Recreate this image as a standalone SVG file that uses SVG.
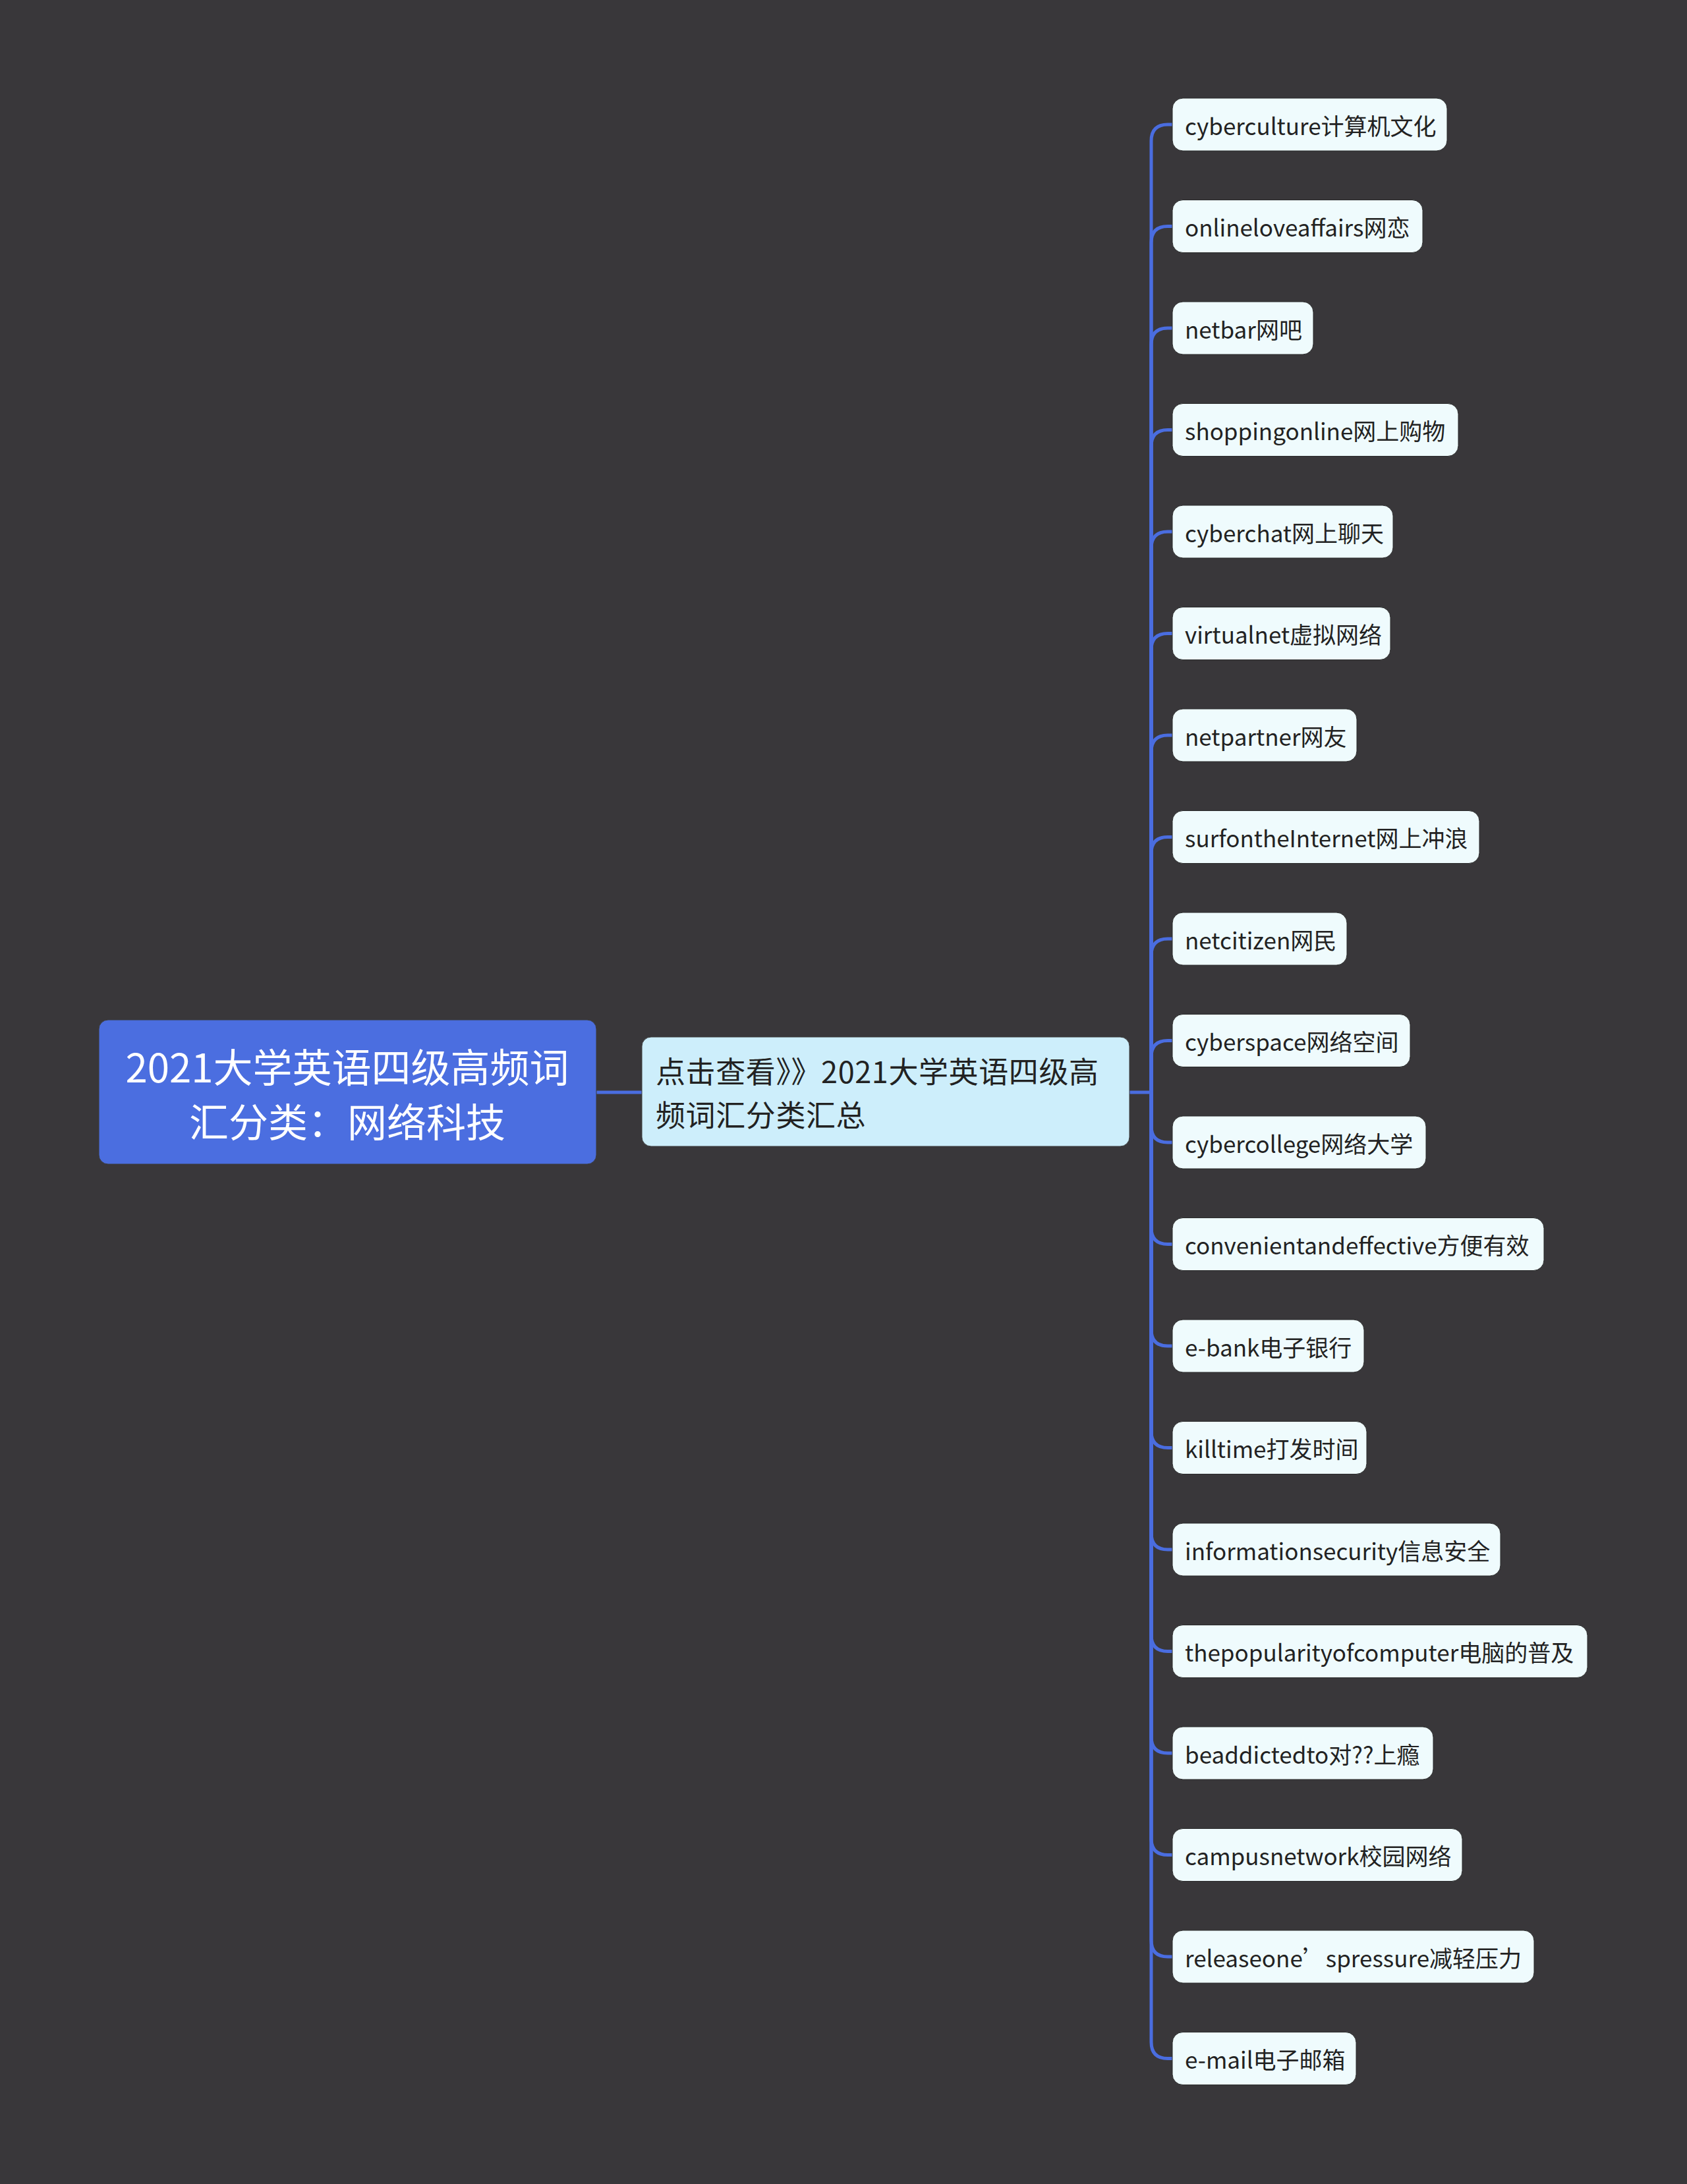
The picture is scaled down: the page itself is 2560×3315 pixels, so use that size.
<svg xmlns="http://www.w3.org/2000/svg" width="2560" height="3315" viewBox="0 0 2560 3315">
<style>
.bg{fill:#39373a}
.c{fill:none;stroke:#4a6de0;stroke-width:5;stroke-linecap:round;stroke-linejoin:round}
.root rect{fill:#4b6ee0;stroke:#3b3b3b;stroke-width:1}
.root text{fill:#ffffff;font-family:"Noto Sans CJK SC","Noto Sans",sans-serif;font-size:60px;text-anchor:middle;dominant-baseline:central}
.mid rect{fill:#cdeefb;stroke:#3b3b3b;stroke-width:1}
.mid text{fill:#222222;font-family:"Noto Sans CJK SC","Noto Sans",sans-serif;font-size:45px;dominant-baseline:central}
.leaf rect{fill:#effbfd;stroke:#2a2a2a;stroke-width:1}
.leaf text{fill:#222222;font-family:"Noto Sans CJK SC","Noto Sans",sans-serif;font-size:35px;dominant-baseline:central}
</style>
<rect class="bg" x="0" y="0" width="2560" height="3315"/>
<g id="connectors">
<path class="c" d="M905 1658 H974"/>
<path class="c" d="M1714 1658 H1747 V214 Q1747 189 1772 189 H1779"/>
<path class="c" d="M1747 1658 V368.5 Q1747 343.5 1772 343.5 H1779"/>
<path class="c" d="M1747 1658 V523 Q1747 498 1772 498 H1779"/>
<path class="c" d="M1747 1658 V677.5 Q1747 652.5 1772 652.5 H1779"/>
<path class="c" d="M1747 1658 V832 Q1747 807 1772 807 H1779"/>
<path class="c" d="M1747 1658 V986.5 Q1747 961.5 1772 961.5 H1779"/>
<path class="c" d="M1747 1658 V1141 Q1747 1116 1772 1116 H1779"/>
<path class="c" d="M1747 1658 V1295.5 Q1747 1270.5 1772 1270.5 H1779"/>
<path class="c" d="M1747 1658 V1450 Q1747 1425 1772 1425 H1779"/>
<path class="c" d="M1747 1658 V1604.5 Q1747 1579.5 1772 1579.5 H1779"/>
<path class="c" d="M1747 1658 V1709 Q1747 1734 1772 1734 H1779"/>
<path class="c" d="M1747 1658 V1863.5 Q1747 1888.5 1772 1888.5 H1779"/>
<path class="c" d="M1747 1658 V2018 Q1747 2043 1772 2043 H1779"/>
<path class="c" d="M1747 1658 V2172.5 Q1747 2197.5 1772 2197.5 H1779"/>
<path class="c" d="M1747 1658 V2327 Q1747 2352 1772 2352 H1779"/>
<path class="c" d="M1747 1658 V2481.5 Q1747 2506.5 1772 2506.5 H1779"/>
<path class="c" d="M1747 1658 V2636 Q1747 2661 1772 2661 H1779"/>
<path class="c" d="M1747 1658 V2790.5 Q1747 2815.5 1772 2815.5 H1779"/>
<path class="c" d="M1747 1658 V2945 Q1747 2970 1772 2970 H1779"/>
<path class="c" d="M1747 1658 V3099.5 Q1747 3124.5 1772 3124.5 H1779"/>
</g>
<g id="root" class="root">
<rect x="150" y="1548" width="755" height="219" rx="14"/>
<text x="527" y="1616">2021大学英语四级高频词</text>
<text x="527" y="1699">汇分类：网络科技</text>
</g>
<g id="mid" class="mid">
<rect x="974" y="1574" width="740" height="166" rx="14"/>
<text x="995" y="1624" letter-spacing="0.6">点击查看》》2021大学英语四级高</text>
<text x="995" y="1690" letter-spacing="0.6">频词汇分类汇总</text>
</g>
<g id="leaf1" class="leaf"><rect x="1779" y="149" width="417" height="80" rx="16"/><text x="1798" y="189">cyberculture计算机文化</text></g>
<g id="leaf2" class="leaf"><rect x="1779" y="303.5" width="380" height="80" rx="16"/><text x="1798" y="343.5">onlineloveaffairs网恋</text></g>
<g id="leaf3" class="leaf"><rect x="1779" y="458" width="214" height="80" rx="16"/><text x="1798" y="498">netbar网吧</text></g>
<g id="leaf4" class="leaf"><rect x="1779" y="612.5" width="434" height="80" rx="16"/><text x="1798" y="652.5">shoppingonline网上购物</text></g>
<g id="leaf5" class="leaf"><rect x="1779" y="767" width="335" height="80" rx="16"/><text x="1798" y="807">cyberchat网上聊天</text></g>
<g id="leaf6" class="leaf"><rect x="1779" y="921.5" width="331" height="80" rx="16"/><text x="1798" y="961.5">virtualnet虚拟网络</text></g>
<g id="leaf7" class="leaf"><rect x="1779" y="1076" width="280" height="80" rx="16"/><text x="1798" y="1116">netpartner网友</text></g>
<g id="leaf8" class="leaf"><rect x="1779" y="1230.5" width="466" height="80" rx="16"/><text x="1798" y="1270.5">surfontheInternet网上冲浪</text></g>
<g id="leaf9" class="leaf"><rect x="1779" y="1385" width="265" height="80" rx="16"/><text x="1798" y="1425">netcitizen网民</text></g>
<g id="leaf10" class="leaf"><rect x="1779" y="1539.5" width="361" height="80" rx="16"/><text x="1798" y="1579.5">cyberspace网络空间</text></g>
<g id="leaf11" class="leaf"><rect x="1779" y="1694" width="385" height="80" rx="16"/><text x="1798" y="1734">cybercollege网络大学</text></g>
<g id="leaf12" class="leaf"><rect x="1779" y="1848.5" width="564" height="80" rx="16"/><text x="1798" y="1888.5">convenientandeffective方便有效</text></g>
<g id="leaf13" class="leaf"><rect x="1779" y="2003" width="291" height="80" rx="16"/><text x="1798" y="2043">e-bank电子银行</text></g>
<g id="leaf14" class="leaf"><rect x="1779" y="2157.5" width="295" height="80" rx="16"/><text x="1798" y="2197.5">killtime打发时间</text></g>
<g id="leaf15" class="leaf"><rect x="1779" y="2312" width="498" height="80" rx="16"/><text x="1798" y="2352">informationsecurity信息安全</text></g>
<g id="leaf16" class="leaf"><rect x="1779" y="2466.5" width="630" height="80" rx="16"/><text x="1798" y="2506.5">thepopularityofcomputer电脑的普及</text></g>
<g id="leaf17" class="leaf"><rect x="1779" y="2621" width="396" height="80" rx="16"/><text x="1798" y="2661">beaddictedto对??上瘾</text></g>
<g id="leaf18" class="leaf"><rect x="1779" y="2775.5" width="440" height="80" rx="16"/><text x="1798" y="2815.5">campusnetwork校园网络</text></g>
<g id="leaf19" class="leaf"><rect x="1779" y="2930" width="549" height="80" rx="16"/><text x="1798" y="2970">releaseone’spressure减轻压力</text></g>
<g id="leaf20" class="leaf"><rect x="1779" y="3084.5" width="279" height="80" rx="16"/><text x="1798" y="3124.5">e-mail电子邮箱</text></g>
</svg>
